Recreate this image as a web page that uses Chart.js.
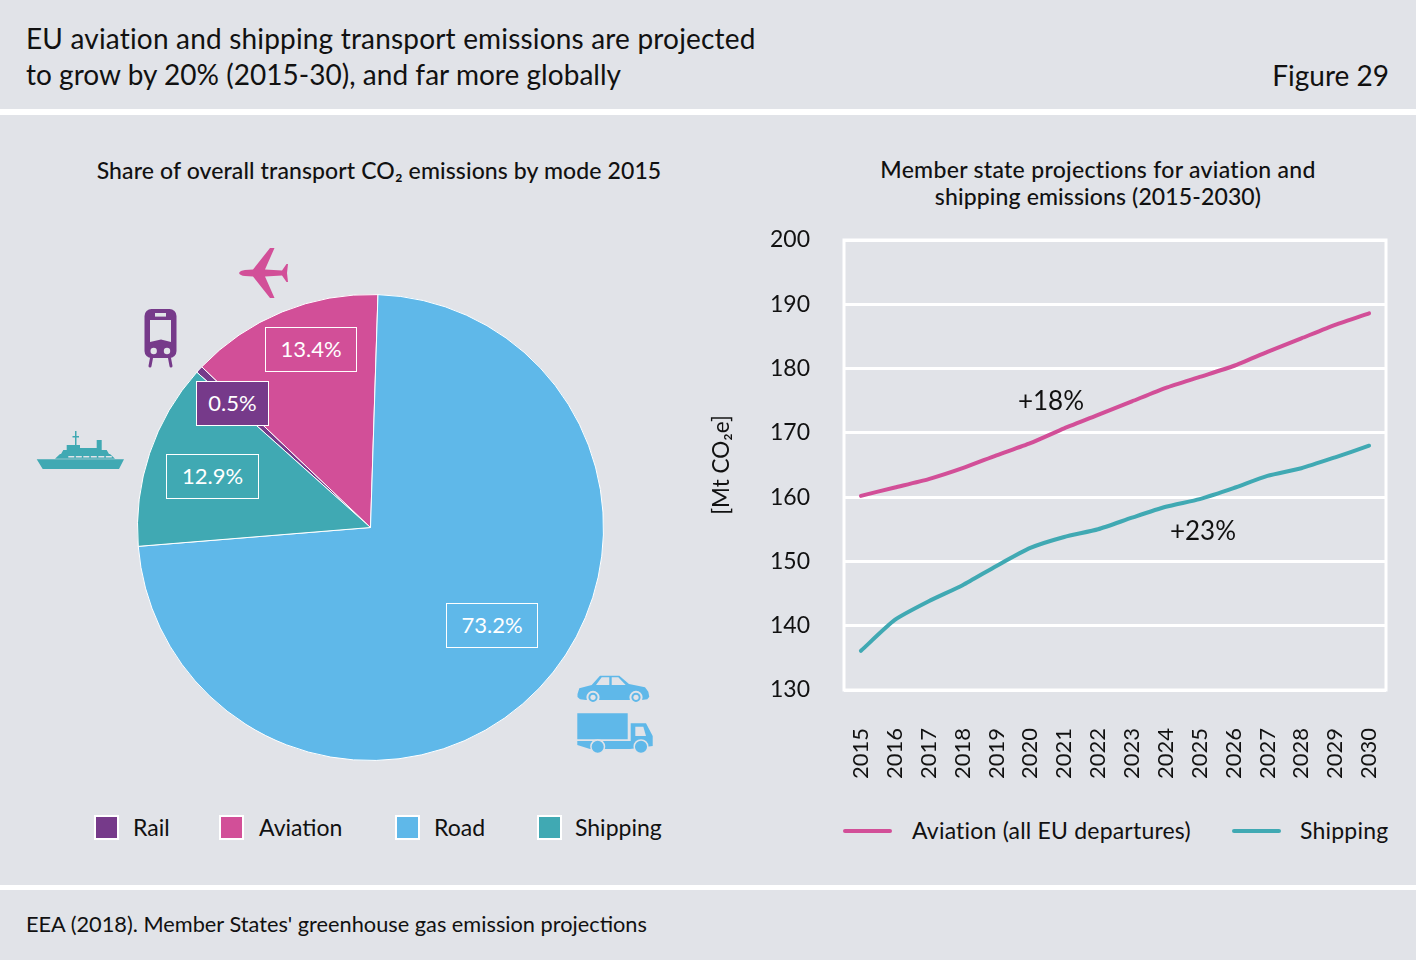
<!DOCTYPE html>
<html><head><meta charset="utf-8">
<script src="https://cdn.jsdelivr.net/npm/chart.js@4/dist/chart.umd.min.js"></script>
<style>
html,body{margin:0;padding:0;background:#e1e3e8;width:1416px;height:960px;overflow:hidden}
body{position:relative;font-family:Lato,sans-serif;color:#111}
.t{position:absolute;white-space:nowrap;line-height:1}
.band{position:absolute;left:0;width:1416px;background:#fff}
canvas{position:absolute}
.box{position:absolute;border:1.5px solid #fff;color:#fff;font-size:22px;display:flex;align-items:center;justify-content:center;box-sizing:border-box;padding-bottom:3px}
.sw{position:absolute;width:25px;height:25px;border:2px solid #fff;box-sizing:border-box;top:815px}
.ln{position:absolute;height:4px;border-radius:2px;top:829px}
svg{position:absolute;left:0;top:0}
</style></head><body>
<div class="band" style="top:109px;height:6px"></div>
<div class="band" style="top:885px;height:5px"></div>
<div class="t" style="left:26px;top:20px;font-size:28px;line-height:36px;letter-spacing:.18px">EU aviation and shipping transport emissions are projected<br><span style="letter-spacing:.03px">to grow by 20% (2015-30), and far more globally</span></div>
<div class="t" style="right:27px;top:61px;font-size:28px">Figure 29</div>
<div class="t" style="left:379px;top:159px;font-size:23px;letter-spacing:.11px;transform:translateX(-50%);font-weight:500">Share of overall transport CO₂ emissions by mode 2015</div>
<div class="t" style="left:1098px;top:156px;font-size:23px;letter-spacing:.3px;line-height:27px;transform:translateX(-50%);text-align:center;font-weight:500">Member state projections for aviation and<br><span style="letter-spacing:.13px">shipping emissions (2015-2030)</span></div>
<div class="t" style="left:26px;top:914px;font-size:21.75px">EEA (2018). Member States' greenhouse gas emission projections</div>
<canvas id="pie" style="left:137px;top:294px;width:467px;height:467px"></canvas>
<canvas id="line" style="left:708px;top:225px;width:692px;height:570px"></canvas>
<div class="t" style="left:1051px;top:387px;font-size:26px;transform:translateX(-50%)">+18%</div>
<div class="t" style="left:1203px;top:517px;font-size:26px;transform:translateX(-50%)">+23%</div>
<div id="pieBoxes"></div>
<div id="pieLegend"></div>
<div id="lineLegend"></div>
<svg width="1416" height="960" viewBox="0 0 1416 960">
<path fill="#d24f98" d="M239 273Q240 270.5 245 270L253 269.5L270 248L274.5 248L265 269.5L282 270.5L286.5 264L288 264L287 273L288 282L286.5 282L282 275.5L265 276.5L274.5 298L270 298L253 276.5L245 276Q240 275.5 239 273Z"/>
<rect x="144.5" y="309" width="32" height="49" rx="7" fill="#763a8a"/>
<path fill="#e1e3e8" d="M150 320H171V342L161 339.5L150 342Z"/>
<rect x="155" y="313" width="11" height="3.6" fill="#e1e3e8"/>
<circle cx="153.7" cy="351" r="3.2" fill="#e1e3e8"/><circle cx="167" cy="351" r="3.2" fill="#e1e3e8"/>
<path stroke="#763a8a" stroke-width="3" stroke-linecap="round" d="M151.5 358L150 366M169.5 358L171 366"/>
<path fill="#40a9b3" d="M36.7 459.3H124L119 469H42.7ZM55 458.7L60 454H110L115 458.7ZM61 454L63.3 450H106.7L109 454ZM66.7 450V445H80V448H96.7V440H101.7V450Z"/>
<rect x="75" y="431" width="1.5" height="14" fill="#40a9b3"/><rect x="72.5" y="436" width="6.5" height="1.5" fill="#40a9b3"/>
<path stroke="#e1e3e8" stroke-width="1.6" stroke-dasharray="6 1.5" d="M68.3 456.7H112"/>
<path fill="#5fb8e9" d="M577.5 694L579.3 688.3L591.7 685L600 675.7H619.3L629 684L645 687.3L648.3 691.7L649.3 696.7L647.3 699.3L641.7 700H586L580 699.3L577.5 697Z"/>
<path fill="#e1e3e8" d="M596 685L601.7 677.3H609.3V685ZM611.7 677.3H618.3L625.7 685H611.7Z"/>
<g fill="#5fb8e9" stroke="#e1e3e8" stroke-width="2"><circle cx="593" cy="697.3" r="5.6"/><circle cx="636" cy="697.3" r="5.6"/></g>
<circle cx="593" cy="697.3" r="2.6" fill="#e1e3e8"/><circle cx="636" cy="697.3" r="2.6" fill="#e1e3e8"/>
<path fill="#5fb8e9" d="M577.3 713.3H627.7V739.3H577.3ZM577.3 741H630.7V723.3H646L652.7 736V746L630 749H590L577.3 745Z"/>
<path fill="#e1e3e8" d="M635.3 726.7H643.3L646 736H635.3Z"/>
<g fill="#5fb8e9" stroke="#e1e3e8" stroke-width="1.5"><circle cx="597.7" cy="746.7" r="6.8"/><circle cx="641" cy="746.7" r="6.8"/></g>
</svg>
<script>
const shareCategories = ['Rail', 'Aviation', 'Road', 'Shipping'];
const shareValues = [0.5, 13.4, 73.2, 12.9];
const shareColors = ['#763a8a', '#d24f98', '#5fb8e9', '#40a9b3'];
const years = ['2015','2016','2017','2018','2019','2020','2021','2022','2023','2024','2025','2026','2027','2028','2029','2030'];
const aviation = [160.2,161.5,162.8,164.5,166.5,168.4,170.7,172.8,174.9,177.0,178.7,180.4,182.6,184.7,186.8,188.6];
const shipping = [136.1,140.9,143.8,146.3,149.3,152.1,153.8,155.0,156.8,158.5,159.7,161.4,163.3,164.5,166.2,168.0];

Chart.defaults.animation = false;
Chart.defaults.font.family = 'Lato, sans-serif';
Chart.defaults.color = '#111';

new Chart(document.getElementById('pie'), {
  type: 'pie',
  data: { labels: shareCategories, datasets: [{ data: shareValues, backgroundColor: shareColors, borderColor: '#fff', borderWidth: 1 }] },
  options: { responsive: false, rotation: 311.8, plugins: { legend: { display: false }, tooltip: { enabled: false } } }
});

const boxGeom = { Rail: [196,381,73,45], Aviation: [265,327,92,45], Road: [446,603,92,45], Shipping: [166,454,93,45] };
const boxes = document.getElementById('pieBoxes');
shareCategories.forEach((c, i) => {
  const g = boxGeom[c], d = document.createElement('div');
  d.className = 'box'; d.textContent = shareValues[i].toFixed(1) + '%';
  d.style.cssText = `left:${g[0]}px;top:${g[1]}px;width:${g[2]}px;height:${g[3]}px;background:${shareColors[i]}`;
  boxes.appendChild(d);
});
const swX = [94, 219, 395, 537], lbX = [133, 259, 434, 575];
const pl = document.getElementById('pieLegend');
shareCategories.forEach((c, i) => {
  pl.insertAdjacentHTML('beforeend', `<div class="sw" style="left:${swX[i]}px;background:${shareColors[i]}"></div><div class="t" style="left:${lbX[i]}px;top:816px;font-size:23px">${c}</div>`);
});
const lineSeries = [
  { label: 'Aviation (all EU departures)', data: aviation, color: '#d24f98', x: 843, w: 49, tx: 912 },
  { label: 'Shipping', data: shipping, color: '#40a9b3', x: 1232, w: 49, tx: 1300 }
];
const ll = document.getElementById('lineLegend');
lineSeries.forEach(s => {
  ll.insertAdjacentHTML('beforeend', `<div class="ln" style="left:${s.x}px;width:${s.w}px;background:${s.color}"></div><div class="t" style="left:${s.tx}px;top:819px;font-size:23px;letter-spacing:.2px">${s.label}</div>`);
});

const frame = { id: 'frame', beforeDatasetsDraw(c) {
  const a = c.chartArea, x = c.ctx;
  x.save(); x.strokeStyle = '#fff'; x.lineWidth = 3;
  x.strokeRect(a.left, a.top, a.right - a.left, a.bottom - a.top); x.restore();
}};
new Chart(document.getElementById('line'), {
  type: 'line',
  data: { labels: years, datasets: lineSeries.map(s => ({ label: s.label, data: s.data, borderColor: s.color, borderWidth: 4, pointRadius: 0, tension: 0.2, borderCapStyle: 'round' })) },
  options: {
    responsive: false,
    layout: { autoPadding: false, padding: { top: 15, right: 14, bottom: 0, left: 0 } },
    plugins: { legend: { display: false }, tooltip: { enabled: false } },
    scales: {
      x: { offset: true, grid: { display: false }, border: { display: false },
        ticks: { minRotation: 90, maxRotation: 90, padding: 30, font: { size: 22 }, autoSkip: false },
        afterFit(s) { s.height = 105; s.paddingLeft = 0; s.paddingRight = 0; s.paddingTop = 0; s.paddingBottom = 0; } },
      y: { min: 130, max: 200, grid: { color: '#fff', lineWidth: 3, drawTicks: false }, border: { display: false },
        ticks: { stepSize: 10, padding: 34, font: { size: 23 } },
        title: { display: true, text: '[Mt CO₂e]', font: { size: 22.5 }, padding: { top: 0, bottom: 0 } },
        afterFit(s) { s.width = 136; s.paddingLeft = 0; s.paddingRight = 0; s.paddingTop = 0; s.paddingBottom = 0; } }
    }
  },
  plugins: [frame]
});
</script>
</body></html>
